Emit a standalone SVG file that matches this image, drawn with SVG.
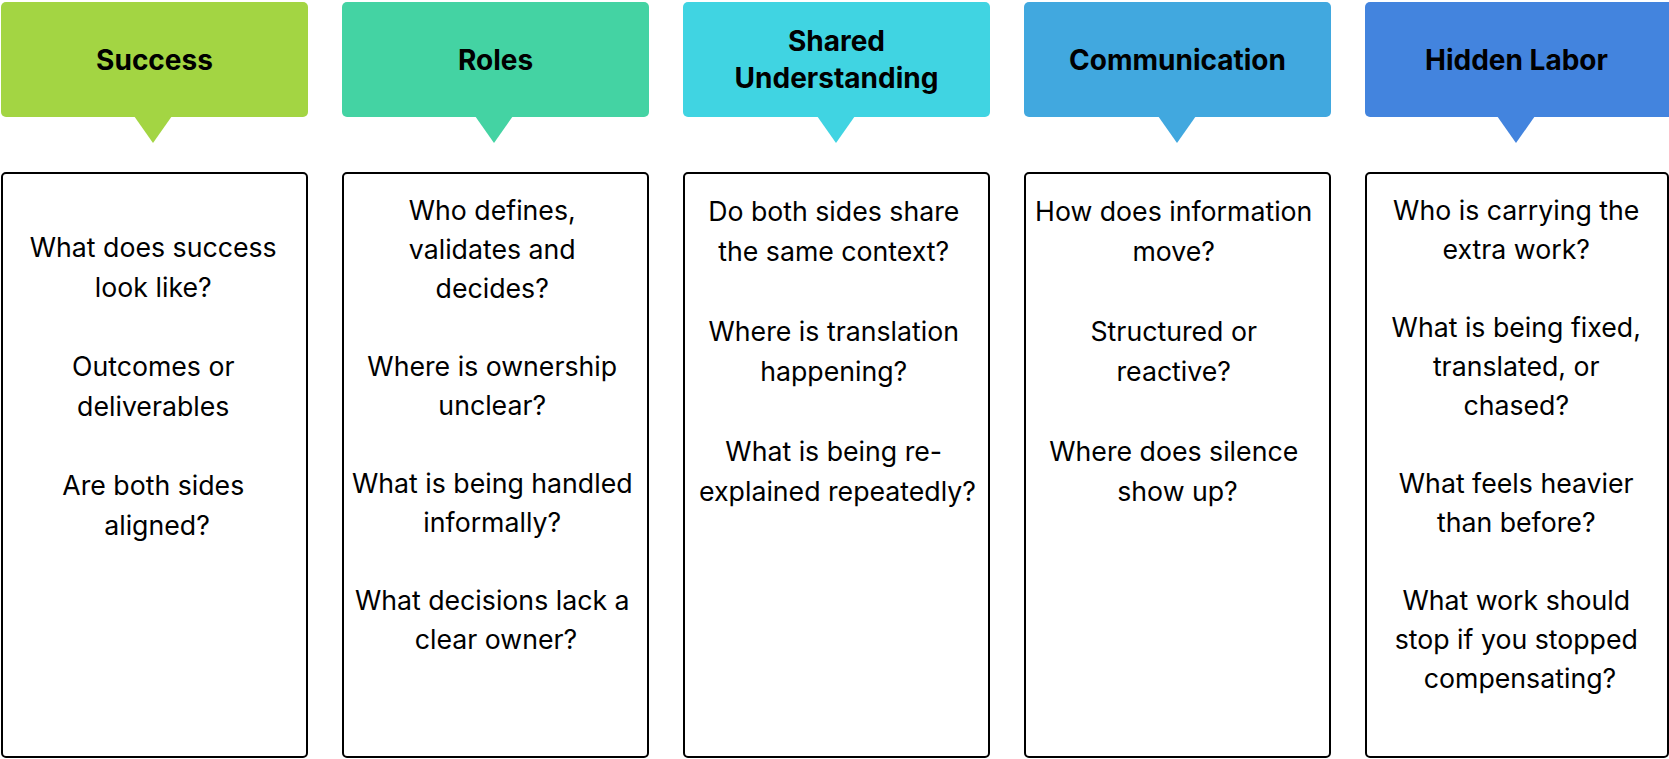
<svg xmlns="http://www.w3.org/2000/svg" width="1669" height="759" viewBox="0 0 1669 759">
<style>
.bg{fill:#ffffff}
.hdr text{font-family:Inter,"Liberation Sans",sans-serif;font-weight:700;font-size:28px;fill:#000;text-anchor:middle}
.box{fill:#ffffff;stroke:#000;stroke-width:2}
.body{font-family:Inter,"Liberation Sans",sans-serif;font-weight:400;font-size:26.7px;fill:#000;text-anchor:middle}
</style>
<rect class="bg" x="0" y="0" width="1669" height="759"/>
<g id="connectors"></g>
<g id="col-success">
  <g class="hdr">
    <rect x="1" y="2" width="307" height="115" rx="5" fill="#A3D543"/>
    <polygon points="134,116 172,116 153,143" fill="#A3D543"/>
    <text x="154.5" y="69.5">Success</text>
  </g>
  <rect class="box" x="2" y="173" width="305" height="584" rx="4"/>
  <text class="body">
    <tspan x="157" y="257">What does success</tspan>
    <tspan x="157" y="296.5">look like?</tspan>
    <tspan x="157" y="376">Outcomes or</tspan>
    <tspan x="157" y="415.5">deliverables</tspan>
    <tspan x="157" y="495">Are both sides</tspan>
    <tspan x="157" y="534.5">aligned?</tspan>
  </text>
</g>
<g id="col-roles">
  <g class="hdr">
    <rect x="342" y="2" width="307" height="115" rx="5" fill="#44D3A3"/>
    <polygon points="475,116 513,116 494,143" fill="#44D3A3"/>
    <text x="495.5" y="69.5">Roles</text>
  </g>
  <rect class="box" x="343" y="173" width="305" height="584" rx="4"/>
  <text class="body">
    <tspan x="496" y="220">Who defines,</tspan>
    <tspan x="496" y="259">validates and</tspan>
    <tspan x="496" y="298">decides?</tspan>
    <tspan x="496" y="376">Where is ownership</tspan>
    <tspan x="496" y="415">unclear?</tspan>
    <tspan x="496" y="493">What is being handled</tspan>
    <tspan x="496" y="532">informally?</tspan>
    <tspan x="496" y="610">What decisions lack a</tspan>
    <tspan x="496" y="649">clear owner?</tspan>
  </text>
</g>
<g id="col-shared">
  <g class="hdr">
    <rect x="683" y="2" width="307" height="115" rx="5" fill="#40D4E2"/>
    <polygon points="817,116 855,116 836,143" fill="#40D4E2"/>
    <text x="836.5" y="50.5">Shared</text>
    <text x="836.5" y="87.5">Understanding</text>
  </g>
  <rect class="box" x="684" y="173" width="305" height="584" rx="4"/>
  <text class="body">
    <tspan x="837.5" y="221">Do both sides share</tspan>
    <tspan x="837.5" y="261">the same context?</tspan>
    <tspan x="837.5" y="341">Where is translation</tspan>
    <tspan x="837.5" y="381">happening?</tspan>
    <tspan x="837.5" y="461">What is being re-</tspan>
    <tspan x="837.5" y="501">explained repeatedly?</tspan>
  </text>
</g>
<g id="col-communication">
  <g class="hdr">
    <rect x="1024" y="2" width="307" height="115" rx="5" fill="#41A8DF"/>
    <polygon points="1158,116 1196,116 1177,143" fill="#41A8DF"/>
    <text x="1177.5" y="69.5">Communication</text>
  </g>
  <rect class="box" x="1025" y="173" width="305" height="584" rx="4"/>
  <text class="body">
    <tspan x="1177.5" y="221">How does information</tspan>
    <tspan x="1177.5" y="261">move?</tspan>
    <tspan x="1177.5" y="341">Structured or</tspan>
    <tspan x="1177.5" y="381">reactive?</tspan>
    <tspan x="1177.5" y="461">Where does silence</tspan>
    <tspan x="1177.5" y="501">show up?</tspan>
  </text>
</g>
<g id="col-hidden-labor">
  <g class="hdr">
    <rect x="1365" y="2" width="310" height="115" rx="5" fill="#4384DE"/>
    <polygon points="1497,116 1535,116 1516,143" fill="#4384DE"/>
    <text x="1516.5" y="69.5">Hidden Labor</text>
  </g>
  <rect class="box" x="1366" y="173" width="302" height="584" rx="4"/>
  <text class="body">
    <tspan x="1520" y="220">Who is carrying the</tspan>
    <tspan x="1520" y="259">extra work?</tspan>
    <tspan x="1520" y="337">What is being fixed,</tspan>
    <tspan x="1520" y="376">translated, or</tspan>
    <tspan x="1520" y="415">chased?</tspan>
    <tspan x="1520" y="493">What feels heavier</tspan>
    <tspan x="1520" y="532">than before?</tspan>
    <tspan x="1520" y="610">What work should</tspan>
    <tspan x="1520" y="649">stop if you stopped</tspan>
    <tspan x="1520" y="688">compensating?</tspan>
  </text>
</g>
</svg>
